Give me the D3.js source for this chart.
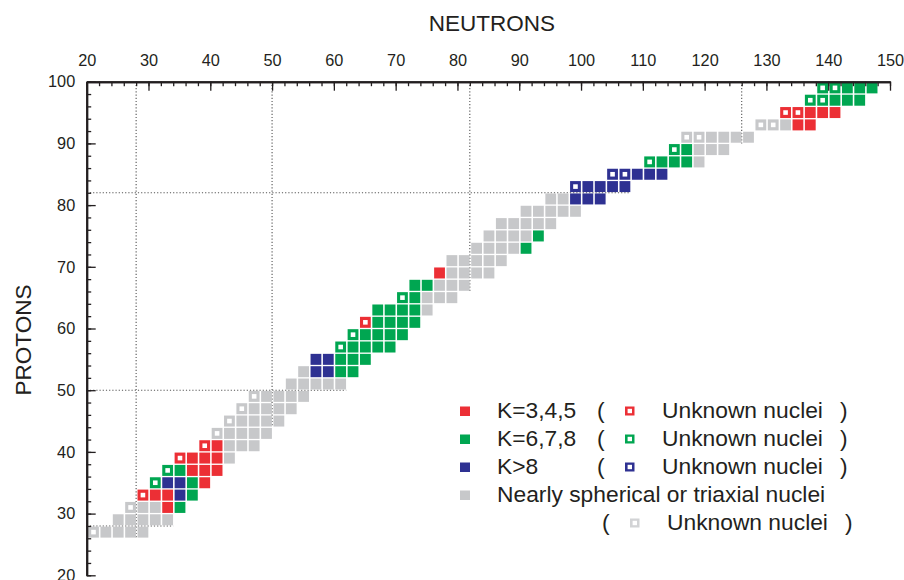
<!DOCTYPE html>
<html>
<script src="https://d3js.org/d3.v7.min.js"></script>
<style>
    body {
        margin: 0;
        background: #fff;
    }

    text {
        font-family: "Liberation Sans", Arial, sans-serif;
        fill: #231f20;
    }
</style>

<body></body>
<script>
    const width = 904,
        height = 580;

    // one row per even proton number: first even neutron number, then one code per step of 2 neutrons
    // r = K=3,4,5   g = K=6,7,8   b = K>8   s = nearly spherical / triaxial ; upper case = unknown nucleus
    const rowZ = [26, 28, 30, 32, 34, 36, 38, 40, 42, 44, 46, 48, 50, 52, 54, 56, 58, 60,
        62, 64, 66, 68, 70, 72, 74, 76, 78, 80, 82, 84, 86, 88, 90, 92, 94, 96, 98];
    const rowFirstN = [20, 24, 26, 28, 30, 32, 34, 38, 40, 42, 44, 46, 52, 54, 56, 60, 62, 64,
        66, 70, 72, 76, 78, 82, 84, 86, 90, 94, 98, 104, 110, 114, 116, 128, 132, 136, 138];
    const rowCodes = ["Sssss", "sssss", "Sssrg", "Rrrbg", "Gbbgr", "Ggrrr", "Rrrrs", "Rrsss",
        "Sssss", "Sssss", "Sssss", "Sssss", "sssss", "sbbgg", "bbggg", "Ggggg", "Ggggg", "Rgggg",
        "ggggs", "Ggsss", "ggsss", "rssss", "sssss", "ssssg", "ssssg", "sssss", "sssss", "ssbbb",
        "Bbbbb", "BBbbb", "Ggggs", "Ggsss", "SSssss", "SSsrr", "RRrrr", "GGggg", "GGggg"];

    // magic numbers drawn as dotted guides, with the value where each guide stops
    const magicN = [28, 50, 82, 126];
    const magicNStopZ = [26, 44, 66, 90];
    const magicZ = [28, 50, 82];
    const magicZStopN = [34, 62, 108];

    const xMajor = d3.range(20, 151, 10);
    const xMinor = d3.range(20, 151, 2);
    const yMajor = d3.range(20, 101, 10);
    const yMinor = d3.range(20, 101, 2);

    const legendKeys = ["r", "g", "b", "s"];
    const legendLabels = ["K=3,4,5", "K=6,7,8", "K>8", "Nearly spherical or triaxial nuclei"];
    const unknownLabel = "Unknown nuclei";

    const colour = {
        r: "#ec2f35",
        g: "#00a651",
        b: "#2e3192",
        s: "#c7c8ca"
    };

    const nuclei = [];
    rowZ.forEach((z, i) => {
        rowCodes[i].split("").forEach((c, j) => {
            nuclei.push({
                n: rowFirstN[i] + 2 * j,
                z: z,
                kind: c.toLowerCase(),
                unknown: c !== c.toLowerCase()
            });
        });
    });

    const svg = d3.select("body").append("svg").attr("width", width).attr("height", height);

    const x = d3.scaleLinear().domain([20, 150]).range([86.7, 890]);
    const y = d3.scaleLinear().domain([20, 100]).range([575.3, 81.7]);

    // dotted magic-number guides
    const guides = svg.append("g")
        .attr("stroke", "#555")
        .attr("stroke-width", 1.1)
        .attr("stroke-dasharray", "1.2,2");
    guides.selectAll(".vguide")
        .data(magicN)
        .join("line")
        .attr("class", "vguide")
        .attr("x1", d => x(d))
        .attr("x2", d => x(d))
        .attr("y1", y(100))
        .attr("y2", (d, i) => y(magicNStopZ[i]));
    guides.selectAll(".hguide")
        .data(magicZ)
        .join("line")
        .attr("class", "hguide")
        .attr("x1", x(20))
        .attr("x2", (d, i) => x(magicZStopN[i]))
        .attr("y1", d => y(d))
        .attr("y2", d => y(d));

    // nuclei squares
    const cellW = 10.8,
        cellH = 11,
        hole = 4.6;
    const cells = svg.append("g");
    cells.selectAll("rect")
        .data(nuclei)
        .join("rect")
        .attr("x", d => x(d.n + 1.1) - cellW / 2)
        .attr("y", d => y(d.z + 1) - cellH / 2)
        .attr("width", cellW)
        .attr("height", cellH)
        .attr("fill", d => colour[d.kind]);
    cells.selectAll(".hole")
        .data(nuclei.filter(d => d.unknown))
        .join("rect")
        .attr("class", "hole")
        .attr("x", d => x(d.n + 1.1) - hole / 2)
        .attr("y", d => y(d.z + 1) - hole / 2)
        .attr("width", hole)
        .attr("height", hole)
        .attr("fill", "#fff");

    // axes: ticks point into the plot
    const topAxis = svg.append("g").attr("transform", `translate(0,${y(100)})`);
    topAxis.append("g")
        .call(d3.axisTop(x).tickValues(xMinor).tickSize(-4.5).tickSizeOuter(0).tickFormat(""));
    topAxis.append("g")
        .call(d3.axisTop(x).tickValues(xMajor).tickSize(-9).tickSizeOuter(0).tickPadding(15.5));

    const leftAxis = svg.append("g").attr("transform", `translate(${x(20)},0)`);
    leftAxis.append("g")
        .call(d3.axisLeft(y).tickValues(yMinor).tickSize(-4.5).tickSizeOuter(0).tickFormat(""));
    leftAxis.append("g")
        .call(d3.axisLeft(y).tickValues(yMajor).tickSize(-9).tickSizeOuter(0).tickPadding(11.5));

    svg.selectAll(".domain").attr("stroke", "#231f20").attr("stroke-width", 2);
    svg.selectAll(".tick line").attr("stroke", "#231f20").attr("stroke-width", 1.3);
    svg.selectAll(".tick text")
        .attr("font-size", 16.3)
        .attr("font-family", "Liberation Sans, Arial, sans-serif")
        .attr("fill", "#231f20");

    svg.append("text")
        .attr("x", 492)
        .attr("y", 31)
        .attr("text-anchor", "middle")
        .attr("font-size", 22.5)
        .text("NEUTRONS");
    svg.append("text")
        .attr("transform", "translate(31,340) rotate(-90)")
        .attr("text-anchor", "middle")
        .attr("font-size", 22.5)
        .text("PROTONS");

    // legend
    const legend = svg.append("g").attr("font-size", 22.8);
    const rowY = d3.scaleLinear().domain([0, 1]).range([418, 446]);
    legendKeys.forEach((k, i) => {
        const base = rowY(i);
        legend.append("rect")
            .attr("x", 460)
            .attr("y", base - 11.5)
            .attr("width", 10)
            .attr("height", 9.5)
            .attr("fill", colour[k]);
        legend.append("text")
            .attr("x", 497)
            .attr("y", base)
            .text(legendLabels[i]);
        const last = k === "s";
        const by = last ? rowY(i + 1) : base;
        const ox = last ? 5 : 0;
        legend.append("text").attr("x", 597 + ox).attr("y", by).text("(");
        legend.append("rect")
            .attr("x", 625 + ox)
            .attr("y", by - 11.5)
            .attr("width", 9.5)
            .attr("height", 9)
            .attr("fill", last ? "#d2d3d5" : colour[k]);
        legend.append("rect")
            .attr("x", 625 + ox + 2.6)
            .attr("y", by - 11.5 + 2.3)
            .attr("width", 4.4)
            .attr("height", 4.4)
            .attr("fill", "#fff");
        legend.append("text").attr("x", 663 + ox - 1).attr("y", by).text(unknownLabel);
        legend.append("text").attr("x", 840 + ox).attr("y", by).text(")");
    });
</script>

</html>
